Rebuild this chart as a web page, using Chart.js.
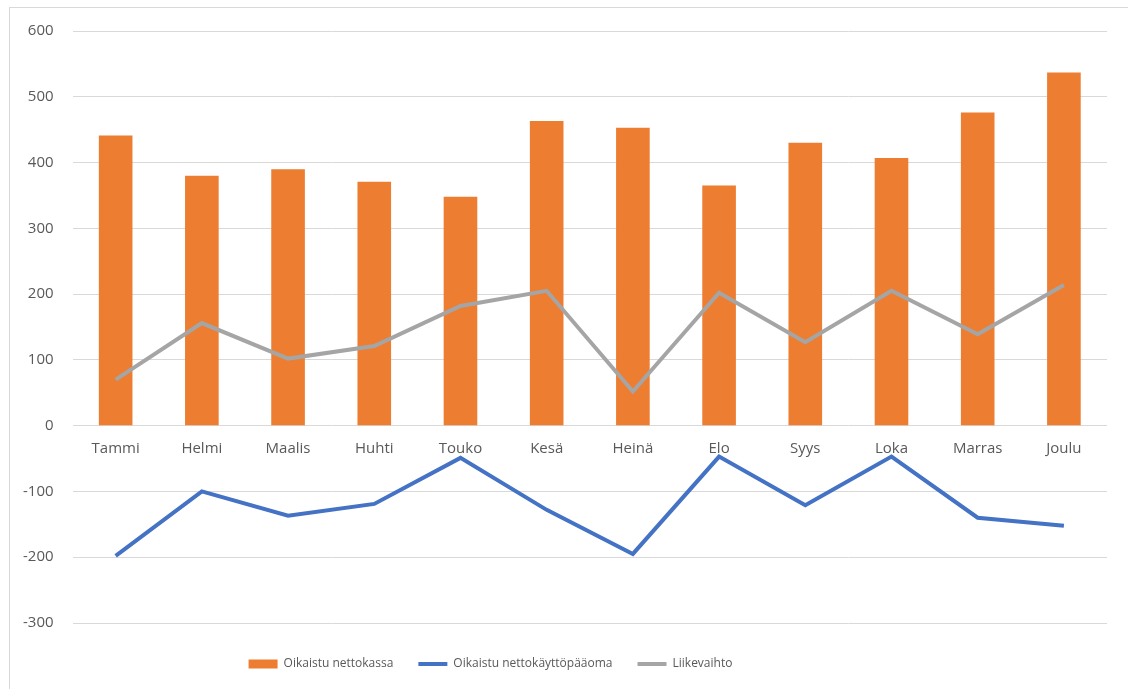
<!DOCTYPE html>
<html>
<head>
<meta charset="utf-8">
<script src="https://cdn.jsdelivr.net/npm/chart.js@4"></script>
<style>
  html, body { margin: 0; padding: 0; background: #fff; }
  #wrap { position: relative; width: 1128px; height: 689px; overflow: hidden; }
  #frame { position: absolute; left: 9px; top: 7px; width: 1200px; height: 800px; border: 1px solid #d9d9d9; }
  canvas { position: absolute; left: 0; top: 0; }
</style>
</head>
<body>
<div id="wrap">
  <div id="frame"></div>
  <canvas id="myChart" width="1128" height="689"></canvas>
</div>
<script>
const kuukaudet = ['Tammi', 'Helmi', 'Maalis', 'Huhti', 'Touko', 'Kesä', 'Heinä', 'Elo', 'Syys', 'Loka', 'Marras', 'Joulu'];
const nettokassa = [441, 380, 390, 371, 348, 463, 453, 365, 430, 407, 476, 537];
const nettokayttopaaoma = [-198, -100, -137, -119, -49, -128, -195, -47, -121, -47, -140, -152];
const liikevaihto = [70, 156, 102, 121, 182, 205, 52, 202, 127, 205, 139, 214];
const yMin = -300, yMax = 600, yStep = 100;

const ctx = document.getElementById('myChart');
const fontti = "'Open Sans', 'Noto Sans', sans-serif";

// legenda ei ole keskellä alkuperäisessä kuvassa
const siirraLegendaa = {
  id: 'siirraLegendaa',
  afterLayout(chart) {
    chart.legend.left -= 65;
    chart.legend.right -= 65;
    chart.legend.top += 10;
    chart.legend.bottom += 10;
  }
};

new Chart(ctx, {
  type: 'bar',
  data: {
    labels: kuukaudet,
    datasets: [
      {
        label: 'Oikaistu nettokassa',
        data: nettokassa,
        backgroundColor: '#ED7D31',
        borderWidth: 0,
        barPercentage: 0.39,
        categoryPercentage: 1,
        pointStyle: 'rect',
        order: 3
      },
      {
        type: 'line',
        label: 'Oikaistu nettokäyttöpääoma',
        data: nettokayttopaaoma,
        borderColor: '#4472C4',
        backgroundColor: '#4472C4',
        borderWidth: 4,
        pointRadius: 0,
        pointStyle: 'line',
        tension: 0,
        order: 1
      },
      {
        type: 'line',
        label: 'Liikevaihto',
        data: liikevaihto,
        borderColor: '#A5A5A5',
        backgroundColor: '#A5A5A5',
        borderWidth: 4,
        pointRadius: 0,
        pointStyle: 'line',
        tension: 0,
        order: 2
      }
    ]
  },
  plugins: [siirraLegendaa],
  options: {
    responsive: false,
    animation: false,
    layout: { padding: { left: 4, right: 21, top: 31, bottom: 19 } },
    plugins: {
      legend: {
        position: 'bottom',
        labels: {
          usePointStyle: true,
          pointStyleWidth: 29,
          boxHeight: 9,
          padding: 25,
          color: '#595959',
          font: { family: fontti, size: 12 },
          sort: (a, b) => a.datasetIndex - b.datasetIndex
        }
      },
      tooltip: { enabled: false }
    },
    scales: {
      x: {
        position: { y: 0 },
        grid: { display: false, drawTicks: false },
        border: { display: false },
        ticks: { color: '#595959', font: { family: fontti, size: 15 }, padding: 14, maxRotation: 0 }
      },
      y: {
        min: yMin,
        max: yMax,
        grid: { color: '#d9d9d9', drawTicks: false },
        border: { display: false },
        ticks: { stepSize: yStep, color: '#595959', font: { family: fontti, size: 15 }, padding: 19 }
      }
    }
  }
});
</script>
</body>
</html>
